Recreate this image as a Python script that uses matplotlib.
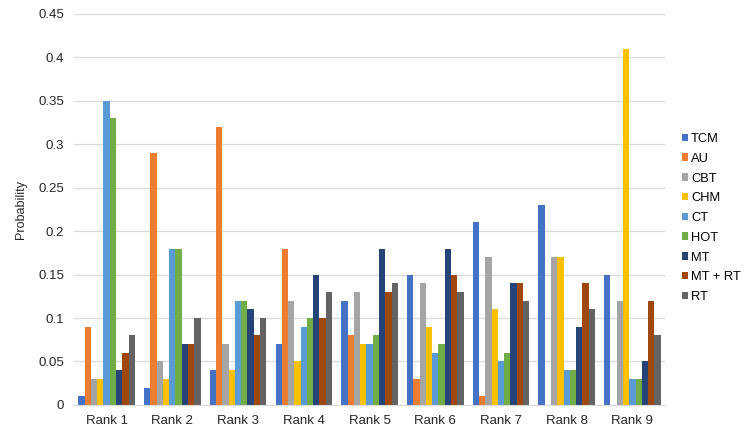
import numpy as np
import matplotlib.pyplot as plt

# Data
ranks = ["Rank 1", "Rank 2", "Rank 3", "Rank 4", "Rank 5", "Rank 6", "Rank 7", "Rank 8", "Rank 9"]
tcm = [0.01, 0.02, 0.04, 0.07, 0.12, 0.15, 0.21, 0.23, 0.15]
au = [0.09, 0.29, 0.32, 0.18, 0.08, 0.03, 0.01, 0.00, 0.00]
cbt = [0.03, 0.05, 0.07, 0.12, 0.13, 0.14, 0.17, 0.17, 0.12]
chm = [0.03, 0.03, 0.04, 0.05, 0.07, 0.09, 0.11, 0.17, 0.41]
ct = [0.35, 0.18, 0.12, 0.09, 0.07, 0.06, 0.05, 0.04, 0.03]
hot = [0.33, 0.18, 0.12, 0.10, 0.08, 0.07, 0.06, 0.04, 0.03]
mt = [0.04, 0.07, 0.11, 0.15, 0.18, 0.18, 0.14, 0.09, 0.05]
mt_rt = [0.06, 0.07, 0.08, 0.10, 0.13, 0.15, 0.14, 0.14, 0.12]
rt = [0.08, 0.10, 0.10, 0.13, 0.14, 0.13, 0.12, 0.11, 0.08]

series = [("TCM", tcm), ("AU", au), ("CBT", cbt), ("CHM", chm), ("CT", ct),
          ("HOT", hot), ("MT", mt), ("MT + RT", mt_rt), ("RT", rt)]
colors = ["#4472C4", "#ED7D31", "#A5A5A5", "#FFC000", "#5B9BD5",
          "#70AD47", "#264478", "#9E480E", "#636363"]

plt.rcParams['font.family'] = ['Liberation Sans', 'DejaVu Sans']

fig = plt.figure(figsize=(7.45, 4.34), dpi=100)
ax = fig.add_axes([0.099, 0.067, 0.794, 0.901])

x = np.arange(len(ranks))
n = len(series)
group_w = 0.86
bw = group_w / n
for i, ((name, vals), c) in enumerate(zip(series, colors)):
    ax.bar(x - group_w / 2 + bw * (i + 0.5), vals, width=bw, color=c, label=name)

ax.set_xlim(-0.5, len(ranks) - 0.5)
ax.set_ylim(0, 0.45)
ax.set_yticks(np.arange(0, 0.451, 0.05))
ax.set_yticklabels(["0", "0.05", "0.1", "0.15", "0.2", "0.25", "0.3", "0.35", "0.4", "0.45"])
ax.set_xticks(x)
ax.set_xticklabels(ranks)
ax.tick_params(axis='both', length=0, labelsize=9.5, colors='#262626', pad=7)
ax.grid(axis='y', color='#D9D9D9', linewidth=0.9)
ax.set_axisbelow(True)
for s in ['top', 'right', 'left']:
    ax.spines[s].set_visible(False)
ax.spines['bottom'].set_color('#D9D9D9')
ax.set_ylabel("Probability", fontsize=9, color='#262626', labelpad=8)

ax.legend(loc='center left', bbox_to_anchor=(1.028, 0.478), frameon=False,
          fontsize=9.3, handlelength=0.5, handleheight=0.5, handletextpad=0.2,
          labelspacing=0.6, borderaxespad=0, borderpad=0)

fig.savefig("out.png", dpi=100)
